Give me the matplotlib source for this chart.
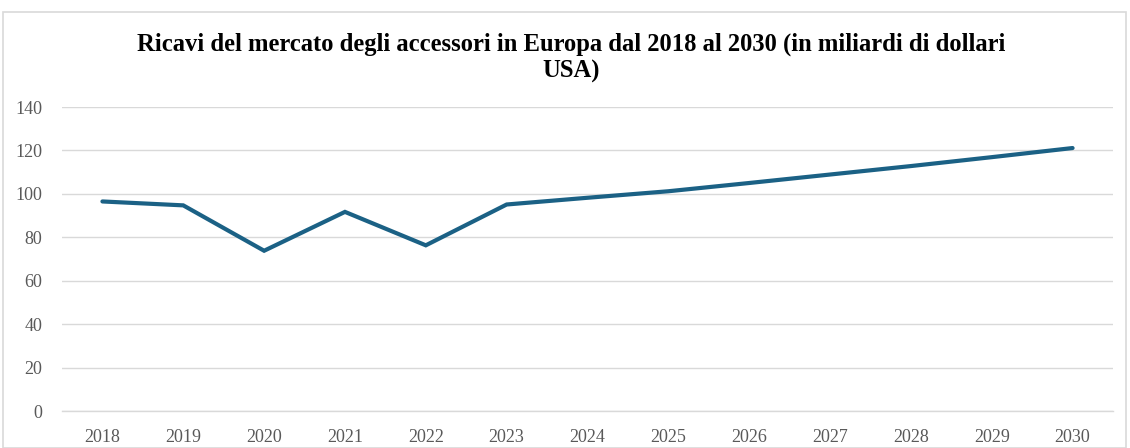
import matplotlib
matplotlib.use("Agg")
import matplotlib.pyplot as plt
from matplotlib.patches import Rectangle

years = ["2018", "2019", "2020", "2021", "2022", "2023", "2024",
         "2025", "2026", "2027", "2028", "2029", "2030"]
revenue = [96.5, 94.7, 73.8, 91.7, 76.3, 95.1, 98.2,
           101.2, 105.0, 108.9, 112.8, 116.9, 121.1]
y_ticks = [0, 20, 40, 60, 80, 100, 120, 140]
title = "Ricavi del mercato degli accessori in Europa dal 2018 al 2030 (in miliardi di dollari\nUSA)"

plt.rcParams['font.family'] = ['Liberation Serif', 'DejaVu Serif']

fig = plt.figure(figsize=(11.3, 4.48), dpi=100)
fig.patch.set_facecolor("white")
# outer chart border
fig.add_artist(Rectangle((3 / 1130, 0), 1123 / 1130, 1 - 12 / 448,
                         transform=fig.transFigure, fill=False,
                         edgecolor="#D9D9D9", linewidth=1.2))

ax = fig.add_axes([62 / 1130, 1 - 411 / 448, (1113 - 62) / 1130, (411 - 107) / 448])
x = list(range(len(years)))
ax.plot(x, revenue, color="#1B6185", linewidth=3.0, solid_capstyle="round",
        solid_joinstyle="miter", zorder=3)

ax.set_xlim(-0.5, len(years) - 0.5)
ax.set_ylim(0, 140)
ax.set_yticks(y_ticks)
ax.set_yticklabels([str(v) for v in y_ticks])
ax.set_xticks(x)
ax.set_xticklabels(years)
ax.grid(axis="y", color="#D9D9D9", linewidth=1.0, zorder=0)
ax.set_axisbelow(True)
for s in ["top", "right", "left"]:
    ax.spines[s].set_visible(False)
ax.spines["bottom"].set_color("#D9D9D9")
ax.spines["bottom"].set_linewidth(1.0)
ax.tick_params(axis="both", length=0, labelsize=13, labelcolor="#595959")
ax.tick_params(axis="y", pad=14)
ax.tick_params(axis="x", pad=13)

fig.text(0.5 + 6 / 1130, 1 - 58 / 448, title, ha="center", va="center", fontsize=17.7,
         fontweight="bold", color="black", linespacing=1.2)

fig.savefig("out.png", dpi=100, facecolor="white")
